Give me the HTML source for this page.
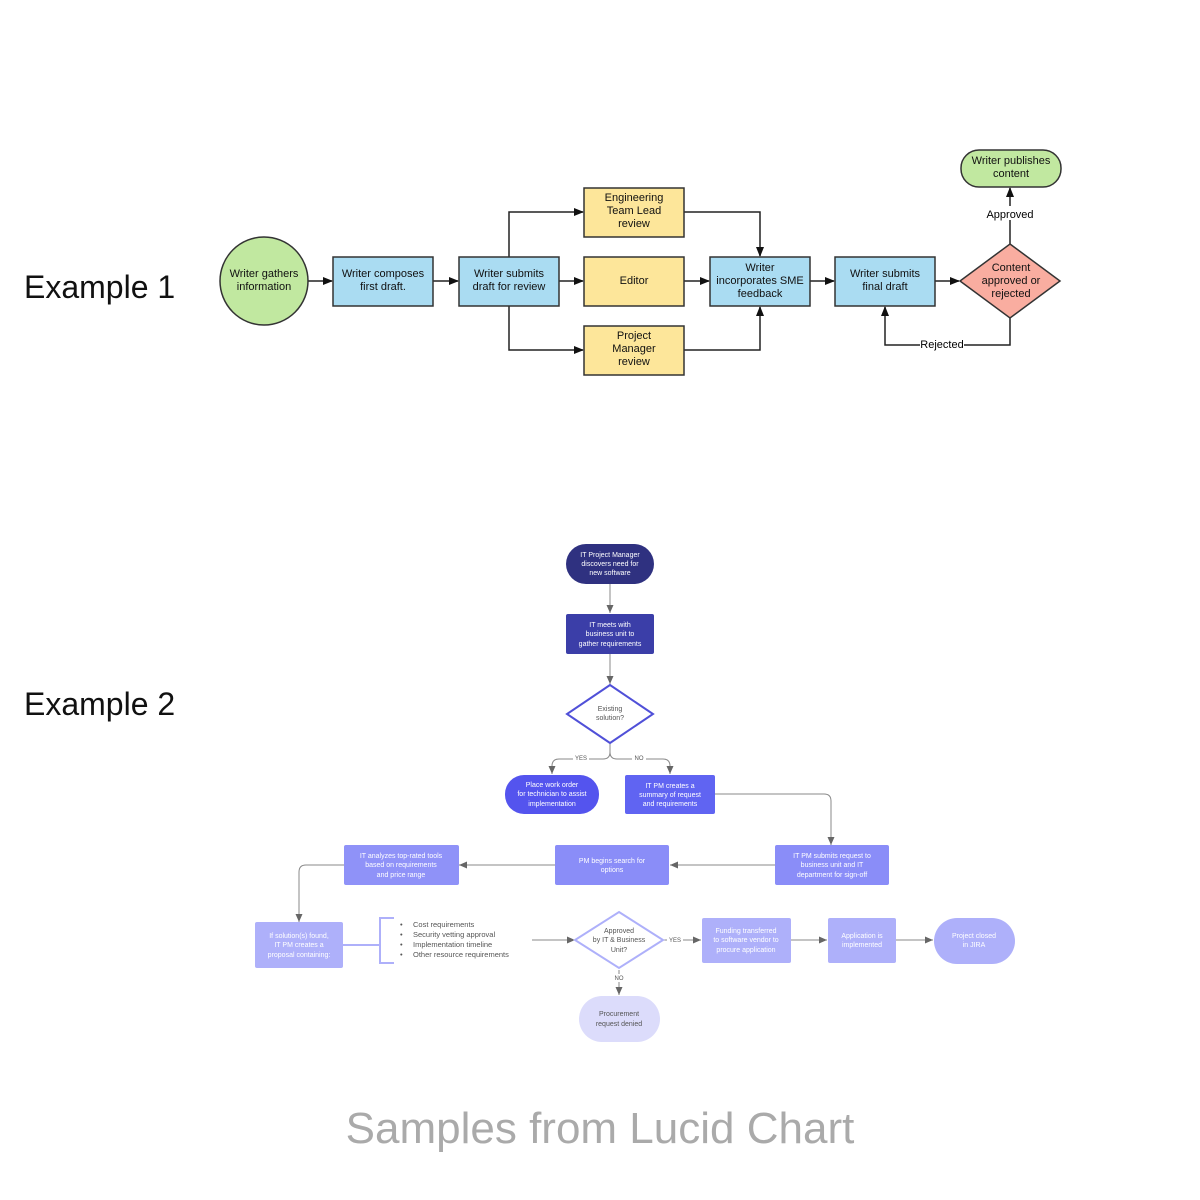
<!DOCTYPE html><html><head><style>body{margin:0;background:#fff}svg{display:block}text{font-family:"Liberation Sans",sans-serif}</style></head><body>
<svg width="1200" height="1200" viewBox="0 0 1200 1200" xmlns="http://www.w3.org/2000/svg">
<defs>
<marker id="a" markerWidth="10" markerHeight="10" refX="9" refY="5" orient="auto" markerUnits="userSpaceOnUse"><path d="M0,1 L10,5 L0,9z" fill="#111"/></marker>
<marker id="g" markerWidth="9" markerHeight="9" refX="8" refY="4.5" orient="auto" markerUnits="userSpaceOnUse"><path d="M0,1 L8,4.5 L0,8z" fill="#666"/></marker>
</defs>
<text x="24" y="298" font-size="32" fill="#111">Example 1</text>
<text x="24" y="715" font-size="32" fill="#111">Example 2</text>
<text x="600" y="1143" font-size="44" fill="#aaa" text-anchor="middle">Samples from Lucid Chart</text>

<g stroke="#222" stroke-width="1.5" fill="none" marker-end="url(#a)">
<path d="M308 281H332"/><path d="M433 281H458"/><path d="M559 281H583"/>
<path d="M509 257V212H583"/><path d="M509 306V350H583"/>
<path d="M684 281H709"/><path d="M684 212H760V256"/><path d="M684 350H760V307"/>
<path d="M810 281H834"/><path d="M935 281H959"/>
<path d="M1010 244V188"/><path d="M1010 318V345H885V307"/>
</g>
<rect x="980" y="206" width="60" height="14" fill="#fff"/>
<text x="1010" y="218" font-size="11" text-anchor="middle">Approved</text>
<rect x="920" y="338" width="44" height="13" fill="#fff"/>
<text x="942" y="348" font-size="11" text-anchor="middle">Rejected</text>

<g stroke="#333" stroke-width="1.5" font-size="11">
<circle cx="264" cy="281" r="44" fill="#c1e8a0"/>
<rect x="333" y="257" width="100" height="49" fill="#aadcf2"/>
<rect x="459" y="257" width="100" height="49" fill="#aadcf2"/>
<rect x="584" y="188" width="100" height="49" fill="#fde69a"/>
<rect x="584" y="257" width="100" height="49" fill="#fde69a"/>
<rect x="584" y="326" width="100" height="49" fill="#fde69a"/>
<rect x="710" y="257" width="100" height="49" fill="#aadcf2"/>
<rect x="835" y="257" width="100" height="49" fill="#aadcf2"/>
<path d="M1010 244L1060 281L1010 318L960 281Z" fill="#f9ada0"/>
<rect x="961" y="150" width="100" height="37" rx="18" fill="#c1e8a0"/>
</g>
<g font-size="11" fill="#111" text-anchor="middle">
<text x="264" y="277">Writer gathers</text><text x="264" y="290">information</text>
<text x="383" y="277">Writer composes</text><text x="383" y="290">first draft.</text>
<text x="509" y="277">Writer submits</text><text x="509" y="290">draft for review</text>
<text x="634" y="201">Engineering</text><text x="634" y="214">Team Lead</text><text x="634" y="227">review</text>
<text x="634" y="284">Editor</text>
<text x="634" y="339">Project</text><text x="634" y="352">Manager</text><text x="634" y="365">review</text>
<text x="760" y="271">Writer</text><text x="760" y="284">incorporates SME</text><text x="760" y="297">feedback</text>
<text x="885" y="277">Writer submits</text><text x="885" y="290">final draft</text>
<text x="1011" y="271">Content</text><text x="1011" y="284">approved or</text><text x="1011" y="297">rejected</text>
<text x="1011" y="164">Writer publishes</text><text x="1011" y="177">content</text>
</g>

<!-- Example 2 -->
<g stroke="#888" stroke-width="1" fill="none" marker-end="url(#g)">
<path d="M610 584V613"/><path d="M610 654V684"/>
<path d="M610 744V752Q610 759 603 759H559Q552 759 552 766V774"/>
<path d="M610 744V752Q610 759 617 759H663Q670 759 670 766V774"/>
<path d="M715 794H824Q831 794 831 801V845"/>
<path d="M775 865H670"/><path d="M555 865H459"/>
<path d="M344 865H306Q299 865 299 872V922"/>
<path d="M532 940H575"/><path d="M664 940H701"/><path d="M790 940H827"/><path d="M895 940H933"/>
<path d="M619 970V995"/>
</g>
<path d="M343 945H380" stroke="#aeb0fa" stroke-width="2"/>
<path d="M394 918H380V963H394" stroke="#aeb0fa" stroke-width="2" fill="none"/>
<g font-size="6" fill="#555" text-anchor="middle">
<rect x="573" y="754" width="16" height="8" fill="#fff"/><text x="581" y="760">YES</text>
<rect x="632" y="754" width="14" height="8" fill="#fff"/><text x="639" y="760">NO</text>
<rect x="667" y="936" width="16" height="8" fill="#fff"/><text x="675" y="942">YES</text>
<rect x="613" y="974" width="12" height="8" fill="#fff"/><text x="619" y="980">NO</text>
</g>
<rect x="566" y="544" width="88" height="40" rx="20" fill="#2f3180"/>
<rect x="566" y="614" width="88" height="40" rx="2" fill="#3b3ea8"/>
<path d="M610 685L653 714L610 743L567 714Z" fill="#fff" stroke="#5050d8" stroke-width="2"/>
<rect x="505" y="775" width="94" height="39" rx="19" fill="#5454ee"/>
<rect x="625" y="775" width="90" height="39" rx="2" fill="#6064f2"/>
<rect x="775" y="845" width="114" height="40" rx="2" fill="#8a8df8"/>
<rect x="555" y="845" width="114" height="40" rx="2" fill="#8a8df8"/>
<rect x="344" y="845" width="115" height="40" rx="2" fill="#8f92f8"/>
<rect x="255" y="922" width="88" height="46" rx="2" fill="#aeb0fa"/>
<path d="M619 912L663 940L619 968L575 940Z" fill="#fff" stroke="#aeb0fa" stroke-width="2"/>
<rect x="702" y="918" width="89" height="45" rx="2" fill="#aeb0fa"/>
<rect x="828" y="918" width="68" height="45" rx="2" fill="#aeb0fa"/>
<rect x="934" y="918" width="81" height="46" rx="23" fill="#aeb0fa"/>
<rect x="579" y="996" width="81" height="46" rx="23" fill="#dcdcfb"/>
<g font-size="7" fill="#fff" text-anchor="middle">
<text x="610" y="557">IT Project Manager</text><text x="610" y="566">discovers need for</text><text x="610" y="575">new software</text>
<text x="610" y="627">IT meets with</text><text x="610" y="636">business unit to</text><text x="610" y="646">gather requirements</text>
<text x="552" y="787">Place work order</text><text x="552" y="796">for technician to assist</text><text x="552" y="806">implementation</text>
<text x="670" y="788">IT PM creates a</text><text x="670" y="797">summary of request</text><text x="670" y="806">and requirements</text>
<text x="832" y="858">IT PM submits request to</text><text x="832" y="867">business unit and IT</text><text x="832" y="877">department for sign-off</text>
<text x="612" y="863">PM begins search for</text><text x="612" y="872">options</text>
<text x="401" y="858">IT analyzes top-rated tools</text><text x="401" y="867">based on requirements</text><text x="401" y="877">and price range</text>
<text x="299" y="938">If solution(s) found,</text><text x="299" y="947">IT PM creates a</text><text x="299" y="957">proposal containing:</text>
<text x="746" y="933">Funding transferred</text><text x="746" y="942">to software vendor to</text><text x="746" y="952">procure application</text>
<text x="862" y="938">Application is</text><text x="862" y="947">implemented</text>
<text x="974" y="938">Project closed</text><text x="974" y="947">in JIRA</text>
</g>
<g font-size="7" fill="#555" text-anchor="middle">
<text x="610" y="711">Existing</text><text x="610" y="720">solution?</text>
<text x="619" y="933">Approved</text><text x="619" y="942">by IT &amp; Business</text><text x="619" y="952">Unit?</text>
<text x="619" y="1016">Procurement</text><text x="619" y="1026">request denied</text>
</g>
<g font-size="7.5" fill="#555">
<text x="400" y="927">•</text><text x="413" y="927">Cost requirements</text>
<text x="400" y="937">•</text><text x="413" y="937">Security vetting approval</text>
<text x="400" y="947">•</text><text x="413" y="947">Implementation timeline</text>
<text x="400" y="957">•</text><text x="413" y="957">Other resource requirements</text>
</g>
</svg></body></html>
